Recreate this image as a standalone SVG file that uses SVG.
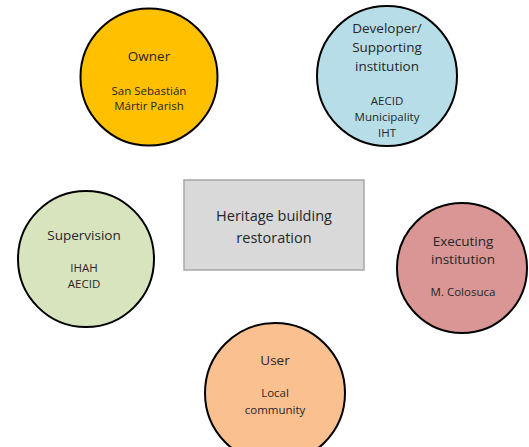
<svg xmlns="http://www.w3.org/2000/svg" width="529" height="447" viewBox="0 0 529 447">
<style>
.c{stroke:#000;stroke-width:2}
.t{font-family:"Open Sans","Liberation Sans",sans-serif;fill:#262626;text-anchor:middle}
.h{font-size:13.5px}
.s{font-size:11.5px}
.b{font-size:14.5px}
</style>
<rect width="529" height="447" fill="#fff"/>
<g id="connectors"></g>
<g id="center">
<rect x="184" y="180" width="180" height="90" fill="#d9d9d9" stroke="#a6a6a6" stroke-width="1.5"/>
<text class="t b" x="274" y="221">Heritage building</text>
<text class="t b" x="274" y="243">restoration</text>
</g>
<g id="owner">
<circle class="c" cx="149" cy="77" r="68.5" fill="#ffc000"/>
<text class="t h" x="149" y="61">Owner</text>
<text class="t s" x="149" y="95">San Sebastián</text>
<text class="t s" x="149" y="110">Mártir Parish</text>
</g>
<g id="developer">
<circle class="c" cx="387" cy="76" r="70" fill="#b7dee8"/>
<text class="t h" x="387" y="33">Developer/</text>
<text class="t h" x="387" y="52">Supporting</text>
<text class="t h" x="387" y="71">institution</text>
<text class="t s" x="387" y="105">AECID</text>
<text class="t s" x="387" y="121">Municipality</text>
<text class="t s" x="387" y="137">IHT</text>
</g>
<g id="supervision">
<circle class="c" cx="86" cy="259" r="68" fill="#d7e4bd"/>
<text class="t h" x="84" y="240">Supervision</text>
<text class="t s" x="84" y="272">IHAH</text>
<text class="t s" x="84" y="288">AECID</text>
</g>
<g id="executing">
<circle class="c" cx="462" cy="268" r="65" fill="#d99694"/>
<text class="t h" x="463" y="246">Executing</text>
<text class="t h" x="463" y="264">institution</text>
<text class="t s" x="463" y="296">M. Colosuca</text>
</g>
<g id="user">
<circle class="c" cx="275" cy="393" r="70" fill="#fac090"/>
<text class="t h" x="275" y="365">User</text>
<text class="t s" x="275" y="397">Local</text>
<text class="t s" x="275" y="414">community</text>
</g>
</svg>
